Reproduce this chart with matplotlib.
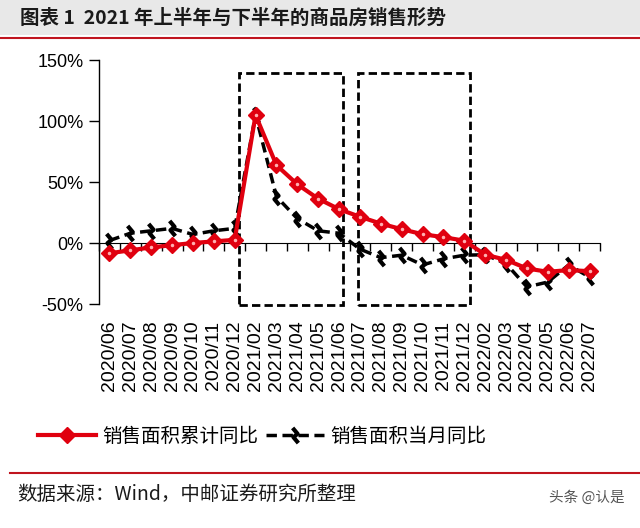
import numpy as np
import matplotlib
matplotlib.use("Agg")
import matplotlib.pyplot as plt
from matplotlib.lines import Line2D
from matplotlib.patches import Rectangle
from matplotlib.path import Path
from matplotlib.markers import MarkerStyle
from matplotlib.transforms import Affine2D

# ---------------------------------------------------------------------------
# Data (%)
# ---------------------------------------------------------------------------
months = ["2020/06", "2020/07", "2020/08", "2020/09", "2020/10", "2020/11", "2020/12",
          "2021/02", "2021/03", "2021/04", "2021/05", "2021/06", "2021/07", "2021/08",
          "2021/09", "2021/10", "2021/11", "2021/12",
          "2022/02", "2022/03", "2022/04", "2022/05", "2022/06", "2022/07"]
cum_yoy = [-8.4, -6.0, -3.6, -1.8, 0.0, 1.3, 2.6,
           104.9, 63.8, 48.1, 36.3, 27.7, 21.5, 15.9, 11.3, 7.2, 4.8, 1.9,
           -9.6, -13.8, -20.9, -23.6, -22.2, -23.1]
month_yoy = [2, 8, 10, 12, 7, 10, 12,
             104.9, 38, 20, 10, 8, -5, -12, -10, -18, -13, -10,
             -9.6, -17, -36, -32, -18, -28]
yticks = [-50, 0, 50, 100, 150]
# highlighted periods: (first month, last month)
boxes = [("2021/02", "2021/06"), ("2021/07", "2021/12")]

RED = "#E0000F"
DARK_RED = "#C0141E"
CJK = ["Noto Sans CJK SC", "DejaVu Sans"]

plt.rcParams["font.family"] = ["Liberation Sans", "Noto Sans CJK SC"]

fig = plt.figure(figsize=(6.4, 5.28), dpi=100)
W, H = 640, 528

# ── header band ───────────────────────────────────────────────────────────
fig.patches.append(Rectangle((0, 1 - 35 / H), 1, 35 / H, transform=fig.transFigure,
                             facecolor="#E8E8E8", edgecolor="none", zorder=0))
fig.lines.append(Line2D([0, 1], [1 - 38 / H] * 2, transform=fig.transFigure,
                        color=DARK_RED, lw=1.5))
fig.text(20 / W, 1 - 18 / H, "图表 1  2021 年上半年与下半年的商品房销售形势",
         family=CJK, fontsize=14, fontweight="bold", color="#1a1a1a",
         ha="left", va="center")

# ── main axes ─────────────────────────────────────────────────────────────
ax = fig.add_axes([99 / W, 1 - 304 / H, (600 - 99) / W, (304 - 60) / H])
x = np.arange(len(months))

ax.plot(x, cum_yoy, color=RED, lw=3, marker="D", ms=8, mfc=RED, mec=RED, zorder=4)
ax.plot(x, cum_yoy, ls="none", marker="o", ms=1.5, color="#FFB0B0", zorder=5)

squiggle = Path([(-1, 0.35), (0, 0.35), (0, -0.35), (1, -0.35)],
                [Path.MOVETO, Path.LINETO, Path.LINETO, Path.LINETO])
mk = MarkerStyle(squiggle, fillstyle="none", transform=Affine2D().rotate_deg(-50))
ax.plot(x, month_yoy, color="black", lw=2.5, ls=(0, (3, 1.6)), zorder=3)
ax.plot(x, month_yoy, ls="none", marker=mk, ms=11, mec="black", mew=3, zorder=3)

# box padding (in category units) left / right of the first / last month
box_pads = [(0.8, 0.2), (0.1, 0.25)]
for (a, b), (pl, pr) in zip(boxes, box_pads):
    i0, i1 = months.index(a), months.index(b)
    ax.add_patch(Rectangle((i0 - pl, -51), (i1 - i0) + pl + pr, 190,
                           fill=False, ec="black", lw=2, ls=(0, (3, 1.5)),
                           clip_on=False, zorder=2))

ax.set_xlim(-0.5, len(months) - 0.5)
ax.set_ylim(-50, 150)
ax.set_yticks(yticks)
ax.set_yticklabels([f"{v}%" for v in yticks], fontsize=13)
ax.tick_params(axis="y", direction="out", length=7, width=1, pad=4)
ax.set_xticks(x)
ax.set_xticklabels(months, rotation=90, fontsize=14)
ax.tick_params(axis="x", length=0, pad=12)
for s in ["top", "right", "bottom"]:
    ax.spines[s].set_visible(False)
ax.spines["left"].set_linewidth(1)

# horizontal axis line crossing at 0%
zero_frac = (0 - (-50)) / 200
sec = ax.secondary_xaxis(zero_frac)
sec.set_xticks(np.arange(-0.5, len(months), 1))
sec.set_xticklabels([])
sec.xaxis.set_ticks_position("bottom")
sec.tick_params(axis="x", direction="out", length=6, width=1)

# ── legend ────────────────────────────────────────────────────────────────
handles = [
    Line2D([], [], color=RED, lw=3, marker="D", ms=8, mfc=RED, mec=RED),
    Line2D([], [], color="black", lw=2.5, ls=(0, (3, 1.6)), marker=mk, ms=11,
           mec="black", mew=3),
]
fig.legend(handles, ["销售面积累计同比", "销售面积当月同比"], loc="center",
           bbox_to_anchor=(262 / W, 1 - 436 / H), ncol=2, frameon=False,
           handlelength=3.0, handletextpad=0.3, columnspacing=0.4,
           prop={"family": CJK, "size": 14})

# ── footer ────────────────────────────────────────────────────────────────
fig.lines.append(Line2D([10 / W, 1], [1 - 473 / H] * 2, transform=fig.transFigure,
                        color=DARK_RED, lw=1.5))
fig.text(17 / W, 1 - 494 / H, "数据来源：Wind，中邮证券研究所整理", family=CJK,
         fontsize=14, color="#1a1a1a", ha="left", va="center")
fig.text(625 / W, 1 - 498 / H, "头条 @认是", family=CJK, fontsize=10.5,
         color="#555555", ha="right", va="center")

fig.savefig("out.png", dpi=100, facecolor="white")
